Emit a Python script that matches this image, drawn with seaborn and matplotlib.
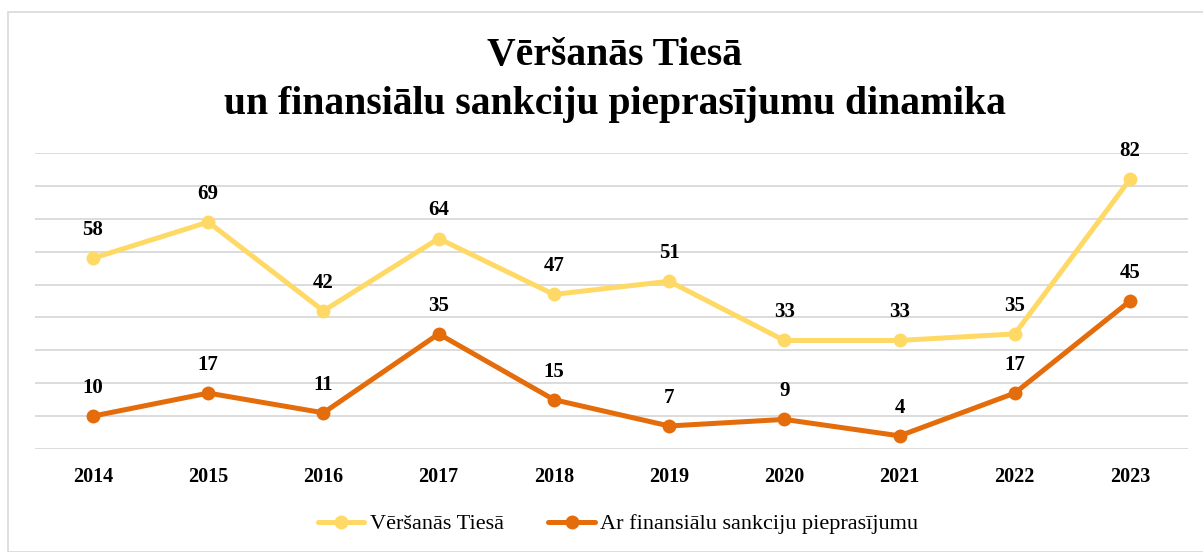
import matplotlib
matplotlib.use("Agg")
import matplotlib.pyplot as plt
import seaborn as sns
import pandas as pd
from matplotlib.patches import Rectangle

years = ["2014", "2015", "2016", "2017", "2018", "2019", "2020", "2021", "2022", "2023"]
versanas = [58, 69, 42, 64, 47, 51, 33, 33, 35, 82]
sankcijas = [10, 17, 11, 35, 15, 7, 9, 4, 17, 45]
series_names = ["Vēršanās Tiesā", "Ar finansiālu sankciju pieprasījumu"]
title = "Vēršanās Tiesā\nun finansiālu sankciju pieprasījumu dinamika"

colors = ["#FFD966", "#E46C0A"]

sns.set_theme(style="white")
plt.rcParams["font.family"] = ["Liberation Serif", "DejaVu Serif"]
plt.rcParams["text.color"] = "black"
plt.rcParams["xtick.color"] = "black"

df = pd.DataFrame({
    "year": years * 2,
    "value": versanas + sankcijas,
    "series": [series_names[0]] * len(years) + [series_names[1]] * len(years),
})

fig = plt.figure(figsize=(12.03, 5.52), dpi=100)
fig.patches.append(Rectangle((8 / 1203, 0), 1.0, 1 - 12 / 552, transform=fig.transFigure,
                             fill=False, edgecolor="#D9D9D9", linewidth=1.2))
ax = fig.add_axes([35.4 / 1203, 1 - 449 / 552, 1152.2 / 1203, 296 / 552])

sns.lineplot(data=df, x="year", y="value", hue="series", palette=colors, ax=ax,
             marker="o", markersize=10, linewidth=3.6, markeredgewidth=0, sort=False)

for vals in (versanas, sankcijas):
    for i, v in enumerate(vals):
        ax.annotate(str(v), (i, v), xytext=(0, 13), textcoords="offset points",
                    ha="center", va="bottom", fontsize=15, fontweight="bold", color="black")

ax.set_xlim(-0.5, len(years) - 0.5)
ax.set_ylim(0, 90)
ax.set_yticks(range(0, 91, 10))
ax.set_yticklabels([])
ax.tick_params(axis="y", length=0)
ax.tick_params(axis="x", length=0, pad=13)
for lbl in ax.get_xticklabels():
    lbl.set_fontweight("bold")
    lbl.set_fontsize(14.5)
ax.grid(axis="y", color="#D9D9D9", linewidth=1.3)
ax.set_axisbelow(True)
for s in ax.spines.values():
    s.set_visible(False)
ax.set_xlabel("")
ax.set_ylabel("")

fig.text(0.511, 1 - 80 / 552, title, ha="center", va="center", fontsize=28.5,
         fontweight="bold", linespacing=1.4)

handles, labels = ax.get_legend_handles_labels()
ax.legend(handles, labels, loc="center", bbox_to_anchor=(618 / 1203, 1 - 524 / 552),
          bbox_transform=fig.transFigure, ncol=2, frameon=False, fontsize=16,
          handlelength=2.1, columnspacing=2.0, handletextpad=0.25)

fig.savefig("out.png", dpi=100)
